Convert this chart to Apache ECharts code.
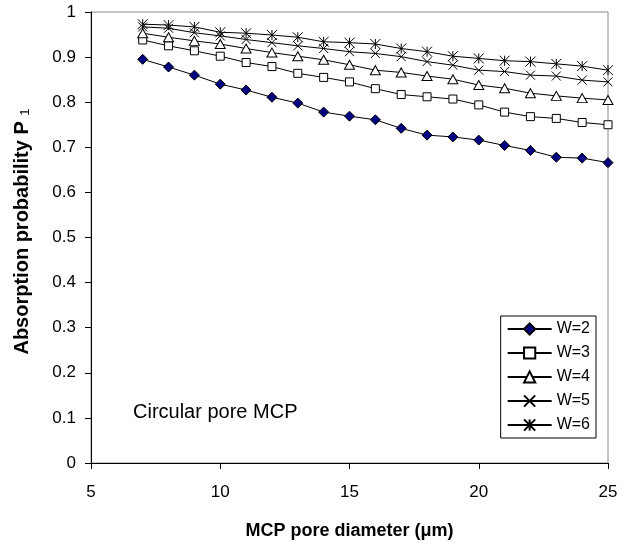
<!DOCTYPE html>
<html>
<head>
<meta charset="utf-8">
<script src="https://cdn.jsdelivr.net/npm/echarts@6/dist/echarts.min.js"></script>
<style>
html,body{margin:0;padding:0;background:#fff;}
#chart{width:629px;height:546px;}
</style>
</head>
<body>
<div id="chart"></div>
<script>
const poreDiameters = [7, 8, 9, 10, 11, 12, 13, 14, 15, 16, 17, 18, 19, 20, 21, 22, 23, 24, 25];
const seriesNames = ['W=2', 'W=3', 'W=4', 'W=5', 'W=6'];
const w2 = [0.895, 0.878, 0.860, 0.840, 0.827, 0.811, 0.798, 0.778, 0.769, 0.761, 0.742, 0.727, 0.723, 0.716, 0.704, 0.693, 0.678, 0.676, 0.666];
const w3 = [0.938, 0.925, 0.914, 0.902, 0.888, 0.879, 0.864, 0.855, 0.845, 0.830, 0.817, 0.812, 0.807, 0.794, 0.778, 0.768, 0.764, 0.755, 0.750];
const w4 = [0.953, 0.944, 0.936, 0.929, 0.919, 0.910, 0.902, 0.894, 0.883, 0.871, 0.866, 0.858, 0.851, 0.838, 0.831, 0.820, 0.814, 0.809, 0.805];
const w5 = [0.967, 0.964, 0.954, 0.947, 0.939, 0.932, 0.925, 0.919, 0.912, 0.908, 0.901, 0.890, 0.882, 0.871, 0.868, 0.860, 0.858, 0.849, 0.845];
const w6 = [0.973, 0.971, 0.967, 0.955, 0.953, 0.949, 0.944, 0.934, 0.932, 0.929, 0.919, 0.912, 0.902, 0.897, 0.892, 0.890, 0.885, 0.880, 0.871];
const xTicks = [5, 10, 15, 20, 25];
const yTicks = [0, 0.1, 0.2, 0.3, 0.4, 0.5, 0.6, 0.7, 0.8, 0.9, 1];

const allValues = [w2, w3, w4, w5, w6];
const symbols = [
  'diamond',
  'rect',
  'triangle',
  'path://M0,0L10,10M10,0L0,10',
  'path://M5,0L5,10M0,0L10,10M10,0L0,10'
];
const symbolSizes = [10, 8, [10, 9], 9, 10];
const fills = ['#000080', '#fff', '#fff', '#000', '#000'];

const FONT = '"Liberation Sans", Arial, sans-serif';

const chart = echarts.init(document.getElementById('chart'), null, {renderer: 'canvas'});

const series = seriesNames.map((name, i) => ({
  name: name,
  type: 'line',
  data: poreDiameters.map((x, j) => [x, allValues[i][j]]),
  symbol: symbols[i],
  symbolSize: symbolSizes[i],
  showAllSymbol: true,
  lineStyle: {color: '#000', width: 1},
  itemStyle: {color: fills[i], borderColor: '#000', borderWidth: 1},
  z: 2 + i,
  animation: false
}));

chart.setOption({
  backgroundColor: '#fff',
  animation: false,
  textStyle: {fontFamily: FONT, color: '#000'},
  title: {
    text: 'Circular pore MCP',
    left: 128,
    top: 397,
    textStyle: {fontFamily: FONT, fontSize: 20, fontWeight: 'normal', color: '#000'}
  },
  grid: {
    left: 91, right: 21, top: 12, bottom: 83,
    show: true, borderColor: '#8c8c8c', borderWidth: 1, backgroundColor: '#fff'
  },
  legend: {
    data: seriesNames,
    orient: 'vertical',
    right: 33,
    top: 316,
    itemWidth: 44,
    itemHeight: 14,
    itemGap: 8,
    padding: [5, 6, 5, 6],
    borderColor: '#000',
    borderWidth: 1,
    backgroundColor: '#fff',
    borderRadius: 0,
    textStyle: {fontFamily: FONT, fontSize: 16, color: '#000'}
  },
  xAxis: {
    type: 'value',
    min: xTicks[0],
    max: xTicks[xTicks.length - 1],
    interval: xTicks[1] - xTicks[0],
    name: 'MCP pore diameter (\u03bcm)',
    nameLocation: 'middle',
    nameGap: 59,
    nameTextStyle: {fontFamily: FONT, fontSize: 18, fontWeight: 'bold', color: '#000'},
    axisLine: {lineStyle: {color: '#000', width: 1}},
    axisTick: {show: true, inside: false, length: 6, lineStyle: {color: '#000'}},
    axisLabel: {fontFamily: FONT, fontSize: 17, color: '#000', margin: 21},
    splitLine: {show: false}
  },
  yAxis: {
    type: 'value',
    min: yTicks[0],
    max: yTicks[yTicks.length - 1],
    interval: 0.1,
    name: 'Absorption probability P {sub|1}',
    nameLocation: 'middle',
    nameRotate: 90,
    nameGap: 59,
    nameTextStyle: {
      fontFamily: FONT, fontSize: 20, fontWeight: 'bold', color: '#000',
      padding: [0, 0, 0, 12],
      rich: {sub: {fontFamily: FONT, fontSize: 13, fontWeight: 'normal', color: '#000', verticalAlign: 'bottom', padding: [6, 0, 0, 0]}}
    },
    axisLine: {show: true, lineStyle: {color: '#000', width: 1}},
    axisTick: {show: true, inside: false, length: 6, lineStyle: {color: '#000'}},
    axisLabel: {fontFamily: FONT, fontSize: 17, color: '#000', margin: 15},
    splitLine: {show: false}
  },
  series: series
});
</script>
</body>
</html>
